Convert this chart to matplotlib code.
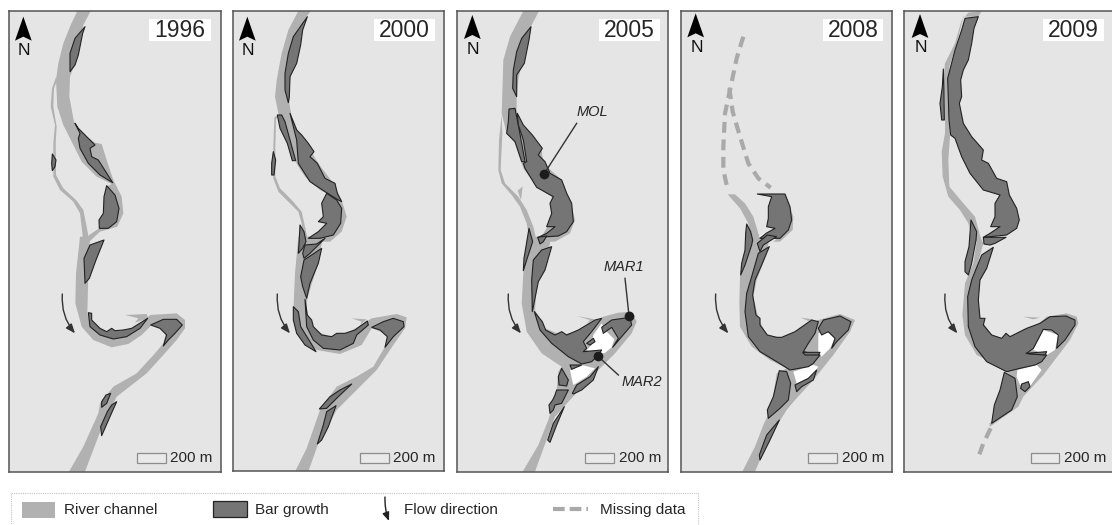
import matplotlib
matplotlib.use('Agg')
import matplotlib.pyplot as plt

plt.rcParams['font.family'] = ['Liberation Sans', 'DejaVu Sans']

W, H = 1112, 525
# map outlines are traced in units of 1/3 pixel, x from the left of each panel's crop,
# y from the image top for *_top and from y=240px for *_low
LOW = 720

RIVER = '#b1b1b1'
BAR = '#757575'
BG = '#e5e5e5'
EDGE = '#222222'
TXT = '#262626'

years = ['1996', '2000', '2005', '2008', '2009']
crop_x = [0, 230, 455, 680, 900]
frame_x = [(28, 662), (8, 642), (6, 640), (3, 637), (11, 636)]
frame_bottom = [697, 692, 697, 695, 695]
north_x = [70, 52, 52, 47, 60]
north_y = [50, 50, 45, 40, 42]
year_box = [(448, 633), (432, 615), (432, 615), (428, 610), (430, 612)]
scale_x = [(410, 497), (390, 476), (390, 478), (385, 472), (392, 478)]
flow_x = [(187, 225), (142, 180), (160, 198), (107, 145), (135, 172)]

# ---- 1996
river_1996_top = [
    [(272,33),(250,75),(225,190),(210,230),(208,290),(222,365),(245,400),(285,428),(305,432),(320,480),(340,540),(365,590),(370,640),(352,680),(300,695),(268,725),(250,725),(268,705),(297,685),(340,670),(345,640),(340,600),(320,560),(335,552),(290,530),(245,485),(215,425),(190,375),(172,320),(168,240),(175,190),(190,130),(212,75),(232,33)],
    [(168,232),(156,265),(152,320),(165,375),(160,430),(160,530),(180,570),(220,605),(240,640),(250,725),(268,725),(260,680),(250,630),(228,600),(190,565),(168,525),(167,430),(170,380),(160,320),(162,265),(172,240)],
]
white_1996_top = []
bars_1996_top = [
    [(255,80),(248,100),(235,165),(225,195),(210,215),(210,160),(225,115)],
    [(225,370),(235,385),(250,400),(285,435),(270,445),(275,470),(295,480),(338,548),(300,525),(265,490),(240,445),(235,415),(240,400)],
    [(157,462),(168,480),(165,500),(157,512),(155,490)],
    [(320,557),(345,585),(357,625),(350,665),(325,685),(298,685),(297,660),(310,640),(312,590)],
]
river_1996_low = [
    [(270,-10),(265,100),(262,220),(275,265),(335,292),(380,285),(440,235),(450,225),(530,220),(555,240),(555,265),(530,300),(490,345),(440,400),(350,470),(310,550),(255,695),(207,695),(250,620),(295,520),(300,490),(340,440),(410,400),(465,340),(490,310),(500,270),(455,255),(425,285),(385,312),(335,322),(280,300),(245,260),(226,190),(228,100),(240,-10)],
    [(375,225),(440,222),(445,235),(405,248),(415,235)],
]
white_1996_low = []
bars_1996_low = [
    [(312,0),(270,15),(252,55),(255,130),(268,115),(288,60)],
    [(265,218),(275,220),(275,240),(285,250),(300,265),(320,275),(335,265),(345,272),(370,270),(395,265),(443,235),(420,265),(380,290),(340,297),(300,285),(270,260)],
    [(452,255),(490,238),(530,238),(547,255),(525,280),(505,300),(490,318),(500,285),(480,265)],
    [(332,460),(320,490),(305,502),(305,485),(318,465)],
    [(350,485),(330,530),(305,587),(302,560),(322,515),(335,495)],
]

# ---- 2000
river_2000_top = [
    [(242,33),(222,60),(205,130),(185,210),(178,260),(178,310),(185,350),(205,395),(235,440),(265,490),(310,550),(335,600),(350,650),(335,695),(300,725),(255,725),(310,690),(325,640),(310,590),(270,570),(225,530),(205,500),(195,480),(165,400),(145,340),(135,290),(140,240),(155,160),(175,90),(205,33)],
    [(133,352),(145,345),(138,358),(136,440),(136,530),(150,565),(185,600),(215,635),(225,680),(235,725),(222,725),(215,670),(205,635),(180,610),(145,575),(130,535),(130,440)],
]
white_2000_top = []
bars_2000_top = [
    [(232,50),(218,90),(212,135),(200,190),(180,230),(178,290),(175,308),(165,270),(165,220),(175,160),(190,110)],
    [(142,345),(155,345),(165,365),(180,420),(197,482),(187,482),(172,430),(150,385)],
    [(180,340),(200,390),(215,405),(235,430),(252,455),(240,470),(262,490),(285,535),(315,550),(322,580),(335,605),(325,600),(285,575),(240,545),(205,490),(200,420)],
    [(130,455),(137,480),(132,525),(125,525),(125,490)],
    [(290,580),(320,600),(335,625),(332,670),(310,705),(270,715),(235,715),(265,695),(290,670),(265,665),(280,650),(275,610)],
]
river_2000_low = [
    [(280,-10),(255,100),(232,175),(228,230),(250,270),(300,290),(350,280),(410,245),(425,235),(500,222),(530,232),(525,265),(490,315),(440,390),(360,470),(320,510),(265,610),(235,695),(195,695),(230,625),(270,510),(320,440),(380,410),(430,380),(465,320),(480,285),(425,265),(395,315),(330,342),(260,330),(215,295),(190,215),(195,100),(205,-10)],
    [(365,235),(410,238),(390,255),(395,245)],
]
white_2000_low = []
bars_2000_low = [
    [(210,-45),(222,-25),(228,5),(218,25),(205,40),(207,10)],
    [(225,15),(260,12),(285,-5),(240,40),(222,55),(218,40)],
    [(275,25),(265,70),(240,130),(230,175),(218,140),(212,110),(222,60)],
    [(190,200),(205,215),(212,260),(240,305),(258,335),(225,315),(200,280),(190,240)],
    [(225,178),(232,225),(245,240),(250,260),(275,285),(305,290),(320,280),(345,280),(375,270),(412,243),(415,255),(380,285),(370,310),(330,330),(280,325),(250,300),(230,260)],
    [(425,262),(460,245),(490,235),(520,245),(522,260),(490,290),(465,322),(472,290),(450,270)],
    [(365,432),(330,450),(300,470),(268,507),(290,505),(325,470)],
    [(318,497),(290,515),(280,555),(262,612),(275,600),(295,560)],
]

# ---- 2005
river_2005_top = [
    [(252,33),(225,85),(205,160),(190,240),(185,290),(185,340),(200,380),(225,410),(260,450),(265,490),(320,540),(345,600),(360,660),(345,700),(300,725),(250,725),(290,660),(290,590),(245,560),(205,505),(180,430),(155,400),(140,340),(142,280),(145,180),(165,110),(205,33)],
    [(140,345),(142,400),(137,510),(150,550),(190,590),(215,630),(235,680),(245,725),(225,725),(215,670),(195,620),(170,585),(140,550),(130,510),(132,420)],
    [(188,572),(203,560),(198,600)],
]
white_2005_top = []
bars_2005_top = [
    [(228,80),(222,120),(208,190),(185,225),(185,290),(173,265),(175,210),(185,155),(200,115)],
    [(162,327),(180,325),(190,375),(210,485),(200,485),(180,425),(155,400),(160,365)],
    [(187,340),(205,375),(232,405),(262,445),(250,465),(270,485),(285,520),(320,540),(335,580),(350,610),(355,665),(335,695),(310,708),(250,712),(275,700),(300,680),(275,680),(290,640),(285,610),(295,590),(245,562),(210,505),(205,490),(215,485),(205,420),(190,375)],
]
river_2005_low = [
    [(290,-10),(270,70),(245,140),(240,210),(270,265),(320,285),(380,270),(445,230),(490,218),(530,215),(545,245),(530,280),(480,340),(430,390),(345,480),(300,530),(240,695),(203,695),(250,615),(280,540),(305,450),(310,395),(320,380),(260,340),(215,275),(200,190),(205,100),(215,0),(225,-10)],
    [(365,228),(420,238),(395,250),(405,240)],
]
white_2005_low = [
    [(415,285),(440,250),(450,270),(478,298),(470,322),(448,340),(410,335),(395,330),(410,315)],
    [(345,390),(380,375),(420,385),(395,410),(355,435),(350,415)],
]
bars_2005_low = [
    [(222,-35),(233,5),(215,60),(205,92),(207,55)],
    [(248,-8),(275,-12),(265,5),(255,12)],
    [(290,20),(270,90),(250,125),(240,175),(232,215),(230,120),(235,60),(260,30)],
    [(238,215),(262,245),(272,270),(300,285),(320,275),(335,285),(370,270),(420,240),(440,235),(410,275),(385,305),(395,325),(385,335),(440,330),(430,345),(410,365),(380,372),(340,350),(290,310),(255,270)],
    [(395,310),(415,295),(420,305),(405,315)],
    [(440,262),(470,240),(525,232),(530,255),(500,290),(473,322),(490,295),(470,262),(445,280)],
    [(345,375),(380,375),(350,388)],
    [(352,460),(365,435),(405,410),(430,380),(415,420),(380,450),(355,462)],
    [(320,385),(340,420),(335,438),(312,435),(310,410)],
    [(340,450),(320,490),(300,495),(295,510),(285,520),(282,495),(293,480),(300,465),(305,450)],
    [(328,500),(305,555),(285,607),(278,600),(295,550)],
]

# ---- 2008
river_2008_top = [
    [(143,583),(165,583),(195,610),(220,650),(235,700),(245,725),(215,725),(205,670),(180,625)],
    [(315,582),(340,650),(338,690),(300,725),(280,725),(320,690),(325,640)],
]
white_2008_top = [[(235,710),(260,695),(280,695),(268,710)]]
bars_2008_top = [
    [(232,582),(315,582),(330,620),(335,660),(325,690),(300,715),(240,715),(258,700),(285,685),(260,680),(265,655),(265,620),(275,590)],
]
dash_2008_top = [
    [(190,110),(170,175),(150,270),(135,340),(130,440),(130,510),(140,555)],
    [(148,265),(158,335),(180,410),(205,490),(235,535),(272,563)],
]
river_2008_low = [
    [(270,-10),(255,55),(230,120),(220,170),(235,235),(260,285),(320,295),(380,255),(415,240),(480,222),(525,240),(510,275),(460,345),(400,420),(345,480),(320,510),(295,550),(240,660),(225,695),(187,695),(225,620),(250,555),(262,530),(275,500),(290,400),(320,385),(270,360),(215,320),(180,260),(178,190),(180,110),(190,60),(210,-10)],
    [(362,233),(400,238),(385,243)],
]
white_2008_low = [
    [(415,280),(440,275),(465,295),(450,325),(425,350),(415,340)],
    [(340,395),(400,375),(415,380),(395,410),(350,430)],
]
bars_2008_low = [
    [(200,-48),(212,-25),(218,0),(215,15),(195,75),(182,105),(185,70),(195,30),(197,-20)],
    [(232,10),(262,-15),(290,-10),(250,15),(240,35)],
    [(268,20),(245,75),(225,120),(218,165),(228,225),(240,235),(240,255),(262,285),(290,292),(305,292),(345,275),(395,240),(415,245),(405,280),(385,310),(370,335),(420,345),(400,370),(385,380),(330,390),(290,365),(240,335),(205,290),(195,215),(200,160),(215,110),(235,40)],
    [(415,265),(430,240),(480,228),(513,245),(505,270),(470,305),(455,325),(465,295),(445,275),(425,285)],
    [(298,392),(320,395),(332,430),(325,480),(300,505),(265,535),(262,510),(280,470)],
    [(345,435),(385,415),(410,390),(400,420),(365,440),(350,455)],
    [(298,540),(270,600),(240,660),(238,645),(260,585)],
    [(368,337),(420,337),(415,345),(375,345)],
]

# ---- 2009
river_2009_top = [
    [(205,38),(245,33),(235,50),(190,50),(170,130),(148,200),(150,300),(150,410),(145,480),(148,560),(190,610),(225,650),(245,725),(220,725),(205,670),(180,630),(145,590),(128,530),(125,455),(135,400),(135,300),(130,240),(135,190),(165,130),(185,60)],
]
white_2009_top = []
bars_2009_top = [
    [(195,55),(235,50),(222,85),(215,130),(205,180),(190,210),(182,240),(185,290),(178,310),(190,370),(215,410),(250,450),(245,480),(265,490),(290,535),(320,545),(328,585),(350,625),(358,660),(350,685),(320,705),(250,712),(270,700),(300,680),(272,680),(285,650),(285,610),(300,585),(250,570),(210,520),(185,470),(165,415),(152,405),(147,360),(143,235),(165,150),(185,90)],
    [(130,207),(132,280),(133,360),(125,360),(120,310),(127,260)],
]
river_2009_low = [
    [(240,-10),(250,10),(222,110),(235,180),(240,235),(300,320),(350,300),(400,265),(440,230),(500,220),(530,230),(535,250),(510,300),(430,405),(370,470),(355,500),(270,560),(268,550),(340,500),(350,460),(345,420),(310,385),(230,345),(195,285),(187,225),(195,130),(220,70),(232,-10)],
    [(370,230),(420,233),(400,238)],
]
white_2009_low = [
    [(430,270),(475,285),(465,330),(440,345),(400,330)],
    [(352,390),(410,375),(425,390),(385,445),(360,435),(350,410)],
]
bars_2009_low = [
    [(213,-60),(230,-25),(228,0),(215,70),(205,105),(195,95),(195,65),(207,20)],
    [(250,-8),(318,-8),(285,10),(270,15),(252,12)],
    [(280,22),(260,85),(240,120),(235,180),(240,235),(255,235),(250,255),(275,285),(305,295),(318,280),(330,290),(380,265),(420,250),(450,230),(498,228),(525,240),(525,255),(495,300),(470,325),(475,285),(455,270),(430,268),(400,325),(380,340),(440,345),(425,365),(405,375),(360,385),(320,395),(260,365),(225,320),(205,260),(203,170),(215,120),(245,45)],
    [(313,397),(345,415),(352,470),(335,510),(275,550),(283,495),(300,450)],
    [(365,432),(385,425),(390,440),(375,455),(362,445)],
    [(378,340),(440,335),(435,345),(390,342)],
]
dash_2009_low = [[(272,565),(250,610),(232,660)]]

rivers_top = [river_1996_top, river_2000_top, river_2005_top, river_2008_top, river_2009_top]
rivers_low = [river_1996_low, river_2000_low, river_2005_low, river_2008_low, river_2009_low]
whites_top = [white_1996_top, white_2000_top, white_2005_top, white_2008_top, white_2009_top]
whites_low = [white_1996_low, white_2000_low, white_2005_low, white_2008_low, white_2009_low]
bars_top = [bars_1996_top, bars_2000_top, bars_2005_top, bars_2008_top, bars_2009_top]
bars_low = [bars_1996_low, bars_2000_low, bars_2005_low, bars_2008_low, bars_2009_low]

# sampling sites in the 2005 panel
site_names = ['MOL', 'MAR1', 'MAR2']
site_dots = [(267, 522), (522, 227 + LOW), (428, 348 + LOW)]
site_line_ends = [(365, 370), (510, 115 + LOW), (490, 405 + LOW)]
site_text = [(412, 335), (507, 82 + LOW), (560, 425 + LOW)]


def low(pts):
    return [(x, y + LOW) for x, y in pts]


def poly(ax, pts, color, edge='none', lw=0, z=2):
    xs = [p[0] for p in pts]
    ys = [p[1] for p in pts]
    ax.fill(xs, ys, facecolor=color, edgecolor=edge, linewidth=lw, zorder=z, joinstyle='round')


def dashed(ax, pts):
    xs = [p[0] for p in pts]
    ys = [p[1] for p in pts]
    ax.plot(xs, ys, color='#a9a9a9', lw=3.0, dashes=(2.6, 1.6), zorder=3, solid_capstyle='butt')


fig = plt.figure(figsize=(W / 100, H / 100), dpi=100, facecolor='white')

for i, year in enumerate(years):
    zl, zr = frame_x[i]
    zb = frame_bottom[i] + LOW
    left = crop_x[i] + zl / 3
    right = crop_x[i] + zr / 3
    top = 11
    bottom = zb / 3
    ax = fig.add_axes([left / W, 1 - bottom / H, (right - left) / W, (bottom - top) / H])
    ax.set_xlim(zl, zr)
    ax.set_ylim(zb, 33)
    ax.set_facecolor(BG)
    ax.set_xticks([])
    ax.set_yticks([])
    for s in ax.spines.values():
        s.set_color('#555555')
        s.set_linewidth(1.1)
    if year == '2009':
        ax.spines['right'].set_visible(False)

    for pts in rivers_top[i]:
        poly(ax, pts, RIVER)
    for pts in rivers_low[i]:
        poly(ax, low(pts), RIVER)
    for pts in whites_top[i]:
        poly(ax, pts, 'white', z=2.5)
    for pts in whites_low[i]:
        poly(ax, low(pts), 'white', z=2.5)
    for pts in bars_top[i]:
        poly(ax, pts, BAR, EDGE, 0.8, 4)
    for pts in bars_low[i]:
        poly(ax, low(pts), BAR, EDGE, 0.8, 4)

    # north arrow
    nx, ny = north_x[i], north_y[i]
    poly(ax, [(nx, ny), (nx + 25, ny + 72), (nx, ny + 60), (nx - 25, ny + 72)], 'black', z=6)
    ax.text(nx + 3, ny + 102, 'N', ha='center', va='center', fontsize=12.5, color='#111111', zorder=6)

    # year label
    x0, x1 = year_box[i]
    ax.fill([x0, x1, x1, x0], [57, 57, 123, 123], facecolor='white', edgecolor='none', zorder=5)
    ax.text((x0 + x1) / 2, 91, year, ha='center', va='center', fontsize=16.5, color=TXT, zorder=6)

    # scale bar
    x0, x1 = scale_x[i]
    ax.fill([x0, x1, x1, x0], [640 + LOW, 640 + LOW, 670 + LOW, 670 + LOW],
            facecolor='#e9e9e9', edgecolor='#8c8c8c', linewidth=0.9, zorder=5)
    ax.text(x1 + 14, 655 + LOW, '200 m', ha='left', va='center', fontsize=11, color=TXT, zorder=6)

    # flow arrow
    x0, x1 = flow_x[i]
    ax.annotate('', xy=(x1, 280 + LOW), xytext=(x0, 162 + LOW), zorder=6,
                arrowprops=dict(arrowstyle='-|>,head_length=0.55,head_width=0.22', color='#333333',
                                lw=1.0, shrinkA=0, shrinkB=0,
                                connectionstyle='arc3,rad=0.2'))

    if year == '2005':
        for name, d, e, t in zip(site_names, site_dots, site_line_ends, site_text):
            ax.plot([d[0], e[0]], [d[1], e[1]], color='#333333', lw=1.0, zorder=6)
            ax.plot(d[0], d[1], 'o', color='#1c1c1c', ms=7, mew=0, zorder=7)
            ax.text(t[0], t[1], name, ha='center', va='center', fontsize=10.5, style='italic', color=TXT, zorder=7)
    if year == '2008':
        for pts in dash_2008_top:
            dashed(ax, pts)
    if year == '2009':
        for pts in dash_2009_low:
            dashed(ax, low(pts))

# legend strip, in plain pixels
leg = fig.add_axes([0, 0, 1, 1], facecolor='none')
leg.set_xlim(0, W)
leg.set_ylim(H, 0)
leg.axis('off')
leg.plot([10.5, 10.5, 698, 698], [526, 492.5, 492.5, 526], color='#c4c4c4', lw=0.8, ls=(0, (1, 1)))
leg.fill([22, 55, 55, 22], [502, 502, 518, 518], facecolor=RIVER, edgecolor='none')
leg.fill([213, 247, 247, 213], [501, 501, 517, 517], facecolor=BAR, edgecolor=EDGE, linewidth=0.9)
leg.annotate('', xy=(389, 521), xytext=(385, 497),
             arrowprops=dict(arrowstyle='-|>,head_length=0.5,head_width=0.2', color='#222222', lw=1.0,
                             shrinkA=0, shrinkB=0, connectionstyle='arc3,rad=0.1'))
leg.plot([553, 588], [509, 509], color='#a9a9a9', lw=3.0, dashes=(2.8, 1.2))
leg_text = ['River channel', 'Bar growth', 'Flow direction', 'Missing data']
leg_x = [64, 255, 404.5, 600]
for t, x in zip(leg_text, leg_x):
    leg.text(x, 510, t, ha='left', va='center', fontsize=11, color=TXT)

fig.savefig('out.png', dpi=100, facecolor='white')
